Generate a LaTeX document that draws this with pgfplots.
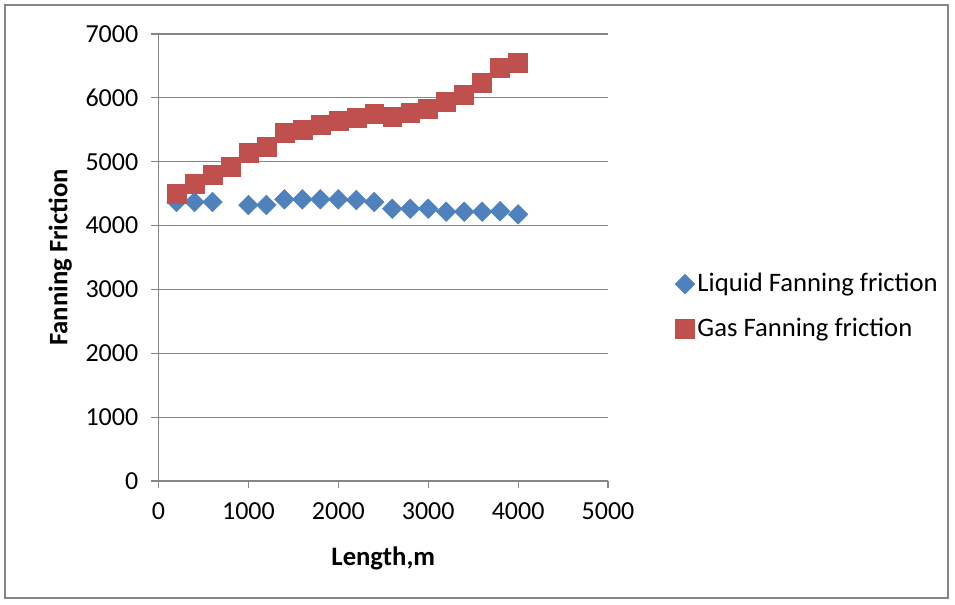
\documentclass[border=0pt]{standalone}
\usepackage{fontspec}
\setmainfont{Carlito}
\usepackage{pgfplots}
\pgfplotsset{compat=1.18}
\definecolor{liq}{HTML}{4F81BD}
\definecolor{gas}{HTML}{C0504D}
\definecolor{gridc}{HTML}{868686}
\begin{document}
\fontsize{19.5}{23}\selectfont
\begin{tikzpicture}
\path[use as bounding box] (0,0) rectangle (716.25pt,453pt);
\draw[gridc, line width=0.9pt] (3.75pt,4.5pt) rectangle (711pt,449.25pt);
\begin{axis}[
  at={(118.9pt,92.25pt)}, anchor=south west,
  scale only axis, width=337.1pt, height=335.25pt,
  xmin=0, xmax=5000, ymin=0, ymax=7000,
  xtick={0,1000,...,5000}, ytick={0,1000,...,7000},
  /pgf/number format/assume math mode=true,
  /pgf/number format/1000 sep={},
  ymajorgrids, grid style={gridc, line width=0.9pt},
  axis line style={gridc, line width=0.9pt},
  axis x line*=bottom, axis y line*=left,
  tick style={gridc, line width=0.9pt},
  tick align=outside, major tick length=5.5pt,
  ticklabel style={font=\fontsize{19.5}{23}\selectfont},
  xticklabel style={yshift=-4pt},
  yticklabel style={xshift=-3pt},
  xlabel={\bfseries Length,m},
  ylabel={\bfseries Fanning Friction},
  label style={font=\fontsize{20}{24}\selectfont},
  xlabel style={yshift=-7pt},
  ylabel style={yshift=-3pt},
  legend style={at={(1.14,0.39)}, anchor=west, draw=none, fill=none,
    font=\fontsize{20}{24}\selectfont, row sep=13pt,
    /tikz/every even column/.append style={column sep=2pt}},
  legend cell align=left,
  clip=false,
]
\addplot[only marks, mark=square*, mark size=5.2pt, mark options={rotate=45, fill=liq, draw=liq}]
coordinates {
(200,4369) (400,4369) (600,4369) (1000,4322) (1200,4322) (1400,4411) (1600,4411)
(1800,4411) (2000,4411) (2200,4400) (2400,4369) (2600,4264) (2800,4264) (3000,4264)
(3200,4217) (3400,4217) (3600,4217) (3800,4225) (4000,4176)
};
\addlegendentry{Liquid Fanning friction}
\addplot[only marks, mark=square*, mark size=7.1pt, mark options={fill=gas, draw=gas}]
coordinates {
(200,4500) (400,4656) (600,4800) (800,4923) (1000,5143) (1200,5232) (1400,5457)
(1600,5494) (1800,5573) (2000,5640) (2200,5683) (2400,5755) (2600,5708) (2800,5760)
(3000,5824) (3200,5939) (3400,6049) (3600,6232) (3800,6478) (4000,6546)
};
\addlegendentry{Gas Fanning friction}
\end{axis}
\end{tikzpicture}
\end{document}
